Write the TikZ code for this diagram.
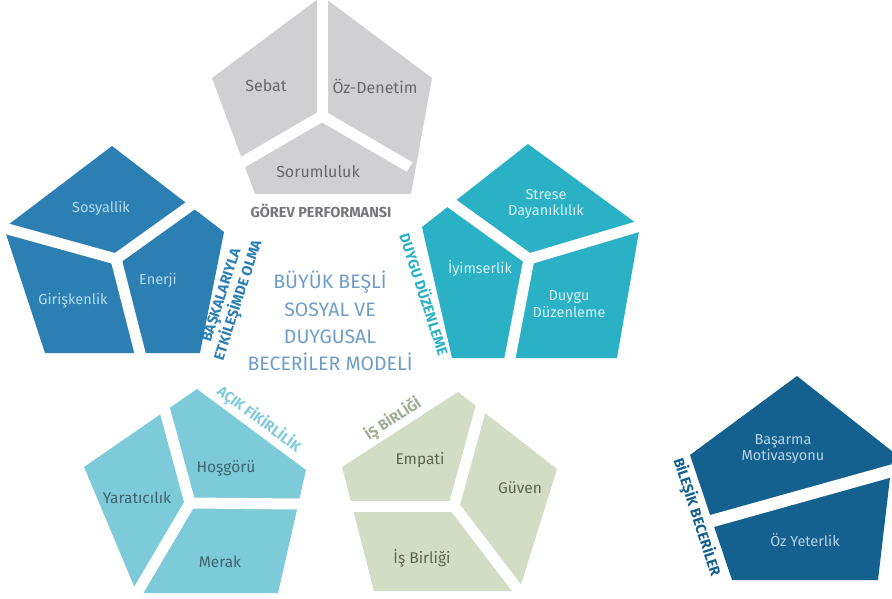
\documentclass[tikz,border=0pt]{standalone}
\usepackage{fontspec}
\setmainfont{Fira Sans}
\definecolor{cgrey}{HTML}{D0D0D2}
\definecolor{cgreyT}{HTML}{68686A}
\definecolor{cgreyL}{HTML}{77777A}
\definecolor{cblue}{HTML}{2B7FB2}
\definecolor{cblueT}{HTML}{B5DCF0}
\definecolor{cteal}{HTML}{2AB1C6}
\definecolor{ctealT}{HTML}{D5F2F6}
\definecolor{clight}{HTML}{7DCAD9}
\definecolor{clightT}{HTML}{3E6470}
\definecolor{cgreen}{HTML}{D3DDC6}
\definecolor{cgreenT}{HTML}{5B6552}
\definecolor{cgreenL}{HTML}{A0AC94}
\definecolor{cdark}{HTML}{14608F}
\definecolor{cdarkT}{HTML}{B8D2E8}
\definecolor{ccenter}{HTML}{6E9EC8}
\begin{document}
\begin{tikzpicture}[x=1pt,y=-1pt,
  gap/.style={draw=white,line width=11pt,shorten <=-4pt,shorten >=-10pt},
  piece/.style={font=\fontsize{14.5}{16.5}\selectfont, align=center, inner sep=0pt},
  midpiece/.style={font=\fontsize{15.5}{17.5}\selectfont, align=center, inner sep=0pt},
  bigpiece/.style={font=\fontsize{16}{18}\selectfont, align=center, inner sep=0pt},
  caption/.style={font=\bfseries\fontsize{14.5}{17.5}\selectfont, inner sep=0pt, align=center}]
\useasboundingbox (0,0) rectangle (892,599);
\clip (0,0) rectangle (892,599);

% ---------- top grey pentagon ----------
\coordinate (T1) at (322,-4);
\coordinate (T2) at (432,78);
\coordinate (T3) at (411,194);
\coordinate (T4) at (255,194);
\coordinate (T5) at (212,78);
\coordinate (TC) at (322,116);
\coordinate (TL) at (243,162);
\coordinate (TR) at (401,162);
\fill[cgrey] (T1)--(T2)--(T3)--(T4)--(T5)--cycle;
\draw[gap] (TC) -- (T1);
\draw[gap] (TC) -- (TL);
\draw[gap] (TC) -- (TR);
\node[bigpiece,text=cgreyT] (sebat) at (266,86) {Sebat};
\node[bigpiece,text=cgreyT] (oz) at (375,86) {Öz-Denetim};
\node[bigpiece,text=cgreyT] (sorum) at (318,172) {Sorumluluk};
\node[caption,text=cgreyL] (gorev) at (321,211) {GÖREV PERFORMANSI};

% ---------- left blue pentagon ----------
\coordinate (L1) at (112,146);
\coordinate (L2) at (224,232);
\coordinate (L3) at (200,353);
\coordinate (L4) at (45,353);
\coordinate (L5) at (4,228);
\coordinate (LC) at (116,259);
\coordinate (LA) at (190,206);
\coordinate (LB) at (140,353);
\fill[cblue] (L1)--(L2)--(L3)--(L4)--(L5)--cycle;
\draw[gap] (LC) -- (L5);
\draw[gap] (LC) -- (LA);
\draw[gap] (LC) -- (LB);
\node[piece,text=cblueT] (sosy) at (101,208) {Sosyallik};
\node[piece,text=cblueT] (giris) at (73,301) {Girişkenlik};
\node[piece,text=cblueT] (enerji) at (158,280) {Enerji};
\node[caption,text=cblue,rotate=72] (baska) at (231,298) {BAŞKALARIYLA\\ETKİLEŞİMDE OLMA};

% ---------- right teal pentagon ----------
\coordinate (R1) at (528,144);
\coordinate (R2) at (640,226);
\coordinate (R3) at (617,358);
\coordinate (R4) at (452,358);
\coordinate (R5) at (422,227);
\coordinate (RC) at (529,259);
\coordinate (RA) at (454,205);
\coordinate (RB) at (510,358);
\fill[cteal] (R1)--(R2)--(R3)--(R4)--(R5)--cycle;
\draw[gap] (RC) -- (RA);
\draw[gap] (RC) -- (R2);
\draw[gap] (RC) -- (RB);
\node[piece,text=ctealT] (strese) at (546,204) {Strese\\Dayanıklılık};
\node[piece,text=ctealT] (iyim) at (480,268) {İyimserlik};
\node[piece,text=ctealT] (duygu) at (569,304) {Duygu\\Düzenleme};
\node[caption,text=cteal,rotate=-72] (duyguL) at (425,294) {DUYGU DÜZENLEME};

% ---------- centre title ----------
\node[font=\fontsize{19.5}{27.3}\selectfont, text=ccenter, align=center, inner sep=0pt] (title) at (330,321)
  {BÜYÜK BEŞLİ\\SOSYAL VE\\DUYGUSAL\\BECERİLER MODELİ};

% ---------- bottom-left light blue pentagon ----------
\coordinate (B1) at (197,389);
\coordinate (B2) at (306,470);
\coordinate (B3) at (278,593);
\coordinate (B4) at (137,593);
\coordinate (B5) at (84,467);
\coordinate (BC) at (190,503);
\coordinate (BA) at (165,411);
\coordinate (BB) at (299,504);
\fill[clight] (B1)--(B2)--(B3)--(B4)--(B5)--cycle;
\draw[gap] (BC) -- (BA);
\draw[gap] (BC) -- (BB);
\draw[gap] (BC) -- (B4);
\node[midpiece,text=clightT] (hosg) at (226,468) {Hoşgörü};
\node[midpiece,text=clightT] (yarat) at (137,498) {Yaratıcılık};
\node[midpiece,text=clightT] (merak) at (220,562) {Merak};
\node[caption,text=clight,rotate=-36.6] (acik) at (259,419) {AÇIK FİKİRLİLİK};

% ---------- bottom-middle green pentagon ----------
\coordinate (G1) at (458,392);
\coordinate (G2) at (557,469);
\coordinate (G3) at (519,591);
\coordinate (G4) at (374,591);
\coordinate (G5) at (342,467);
\coordinate (GC) at (454,506);
\coordinate (GA) at (480,411);
\coordinate (GB) at (351,506);
\fill[cgreen] (G1)--(G2)--(G3)--(G4)--(G5)--cycle;
\draw[gap] (GC) -- (GA);
\draw[gap] (GC) -- (GB);
\draw[gap] (GC) -- (G3);
\node[midpiece,text=cgreenT] (empati) at (420,460) {Empati};
\node[midpiece,text=cgreenT] (guven) at (520,488) {Güven};
\node[midpiece,text=cgreenT] (isb) at (422,558) {İş Birliği};
\node[caption,text=cgreenL,rotate=33] (isbL) at (393,419) {İŞ BİRLİĞİ};

% ---------- right dark blue pentagon ----------
\coordinate (D1) at (797,376);
\coordinate (D2) at (893,452);
\coordinate (D3) at (878,580);
\coordinate (D4) at (732,580);
\coordinate (D5) at (690,455);
\coordinate (DA) at (712,521);
\coordinate (DB) at (891,471);
\fill[cdark] (D1)--(D2)--(D3)--(D4)--(D5)--cycle;
\draw[draw=white,line width=12.5pt,shorten <=-10pt,shorten >=-10pt] (DA) -- (DB);
\node[piece,text=cdarkT] (basarma) at (783,449) {Başarma\\Motivasyonu};
\node[piece,text=cdarkT] (ozy) at (805,540) {Öz Yeterlik};
\node[caption,text=cdark,rotate=-72] (bilesik) at (697,517) {BİLEŞİK BECERİLER};
\end{tikzpicture}
\end{document}
